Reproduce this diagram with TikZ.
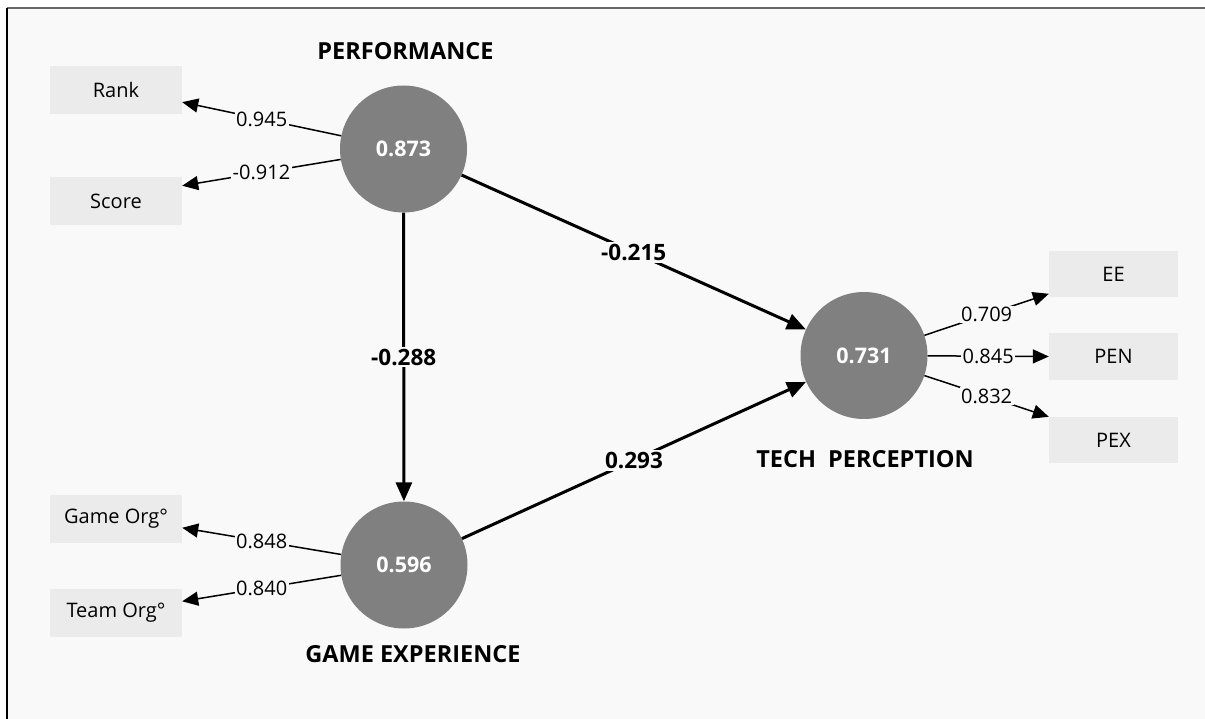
\documentclass[tikz,border=0pt]{standalone}
\usepackage{fontspec}
\setmainfont{Open Sans}
\usetikzlibrary{arrows.meta}
\definecolor{bg}{HTML}{F9F9F9}
\definecolor{boxc}{HTML}{EBEBEB}
\definecolor{lv}{HTML}{808080}
\definecolor{topline}{HTML}{666666}
\begin{document}
\begin{tikzpicture}[x=1pt,y=-1pt,
 lat/.style={circle,fill=lv,minimum size=127pt,inner sep=0pt,text=white,font=\fontsize{21.5}{24}\selectfont\bfseries},
 ind/.style={rectangle,fill=boxc,minimum width=132pt,minimum height=48pt,inner sep=0pt,font=\fontsize{20}{24}\selectfont},
 ttl/.style={font=\fontsize{23.5}{26}\selectfont\bfseries},
 ld/.style={line width=1.5pt,-{Triangle[length=16pt,width=14pt]}},
 pth/.style={line width=3pt,-{Triangle[length=19pt,width=16pt]}},
 ldl/.style={fill=bg,inner sep=1.5pt,font=\fontsize{20}{24}\selectfont},
 pl/.style={fill=bg,inner sep=2pt,font=\fontsize{22.5}{25}\selectfont\bfseries}]
\useasboundingbox (0,0) rectangle (1205,719);
\fill[white] (0,0) rectangle (1205,719);
\fill[bg] (7,8) rectangle (1205,719);
\draw[line width=1.5pt,topline] (7,8) -- (1205,8);
\draw[line width=1.5pt,black] (7,8) -- (7,719);

\node[lat] (perf) at (403.5,149) {0.873};
\node[lat] (game) at (404,565) {0.596};
\node[lat] (tech) at (864,355.5) {0.731};

\node[ind] (rank) at (116,90.5) {Rank};
\node[ind] (score) at (116,201) {Score};
\node[ind] (gorg) at (116,518.5) {Game Org°};
\node[ind] (torg) at (116,613) {Team Org°};
\node[ind,minimum width=129pt,minimum height=46pt] (ee) at (1113.5,274) {EE};
\node[ind,minimum width=129pt,minimum height=46pt] (pen) at (1113.5,356.5) {PEN};
\node[ind,minimum width=129pt,minimum height=46pt] (pex) at (1113.5,440) {PEX};

\node[ttl] (tperf) at (405.5,51) {PERFORMANCE};
\node[ttl] (tgame) at (413,654) {GAME EXPERIENCE};
\node[ttl] (ttech) at (865,459) {TECH\ \ PERCEPTION};

\draw[ld] (perf) -- node[ldl]{0.945} (rank.-10);
\draw[ld] (perf) -- node[ldl]{-0.912} (score.13);
\draw[ld] (game) -- node[ldl]{0.848} (gorg.-8);
\draw[ld] (game) -- node[ldl]{0.840} (torg.10);
\draw[ld] (tech) -- node[ldl]{0.709} (ee.197);
\draw[ld] (tech) -- node[ldl]{0.845} (pen.west);
\draw[ld] (tech) -- node[ldl]{0.832} (pex.north west);

\draw[pth] (perf) -- node[pl]{-0.288} (game);
\draw[pth] (perf) -- node[pl]{-0.215} (tech);
\draw[pth] (game) -- node[pl]{0.293} (tech);
\end{tikzpicture}
\end{document}
